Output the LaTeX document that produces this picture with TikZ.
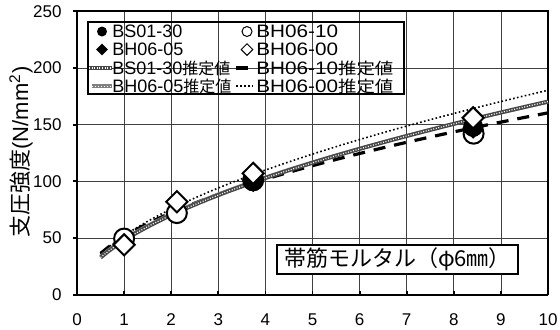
\documentclass[tikz,border=0pt]{standalone}
\usepackage{fontspec}
\usepackage{graphicx}
\usetikzlibrary{shapes.geometric}
\setmainfont{Liberation Sans}
\newfontfamily\jpfont{Noto Sans CJK JP}
\newcommand{\estval}{{\jpfont\fontsize{8}{9}\selectfont 推定値}}
\newcommand{\legwide}[1]{\scalebox{1.15}[1]{#1}}
\tikzset{
  gridline/.style={black!75, line width=0.35pt},
  est30/.style={black!72, line width=2pt,
    postaction={draw=white, line width=0.6pt, dash pattern=on 0.5pt off 0.8pt}},
  est05/.style={black!50, line width=1.7pt,
    postaction={draw=white, line width=0.5pt, dash pattern=on 0.5pt off 1pt}},
  est10/.style={black, line width=1.6pt, dash pattern=on 6pt off 4.5pt},
  est00/.style={black, line width=0.8pt, dash pattern=on 0.8pt off 1.2pt},
  opencirc/.style={circle, draw, fill=white, line width=1pt, minimum size=10pt, inner sep=0pt},
  fillcirc/.style={circle, fill=black, minimum size=10pt, inner sep=0pt},
  opendiam/.style={diamond, draw, fill=white, line width=1pt, minimum size=11pt, inner sep=0pt},
  filldiam/.style={diamond, fill=black, minimum size=11pt, inner sep=0pt},
  ticklabel/.style={font=\fontsize{8.5}{10}\selectfont, inner sep=0pt},
  legtext/.style={anchor=west, inner sep=0pt, font=\fontsize{9}{10}\selectfont},
}
\begin{document}
\begin{tikzpicture}[x=0.5pt, y=-0.5pt]
  \useasboundingbox (0,0) rectangle (560,329);
  \begin{scope}[xshift=38.5pt, yshift=-147.35pt, x=23.55pt, y=0.567pt]
    \foreach \i in {1,...,9} \draw[gridline] (\i,0) -- (\i,250);
    \foreach \j in {50,100,...,200} \draw[gridline] (0,\j) -- (10,\j);
    \draw[line width=0.9pt] (0,250) -- (10,250) -- (10,0);
    \draw[line width=1.2pt] (0,250) -- (0,0) -- (10,0);
    \foreach \i in {1,...,9} \draw[line width=0.9pt] (\i,0) -- ++(0,2pt);
    \foreach \j in {0,50,...,250} {
      \draw[line width=0.9pt] (0,\j) -- ++(-2pt,0);
      \node[ticklabel, anchor=east] (y\j) at (-0.32,\j) {\j};
    }
    \foreach \i in {0,...,10} \node[ticklabel] (x\i) at (\i,-22.3) {\i};
    \node[rotate=90, font=\fontsize{11}{13}\selectfont] (ylab) at (-1.19,125.8)
      {{\jpfont 支圧強度}(N/mm\textsuperscript{2})};
    \draw[est10] plot[domain=0.5:10, samples=60] (\x, {51.3*\x^0.495});
    \draw[est00] plot[domain=0.5:10, samples=60] (\x, {52*\x^0.54});
    \draw[est05] plot[domain=0.5:10, samples=60] (\x, {49*\x^0.54});
    \draw[est30] plot[domain=0.5:10, samples=60] (\x, {48*\x^0.55});
    \node[opencirc] (c10a) at (1,49.5) {};
    \node[opencirc] (c10b) at (2.12,72) {};
    \node[opencirc] (c10c) at (3.74,101) {};
    \node[opencirc] (c10d) at (8.42,142) {};
    \node[fillcirc] (c30a) at (3.74,100) {};
    \node[fillcirc] (c30b) at (8.41,148) {};
    \node[filldiam] (d05a) at (3.74,100) {};
    \node[filldiam] (d05b) at (8.41,147) {};
    \node[opendiam] (d00a) at (1,44) {};
    \node[opendiam] (d00b) at (2.12,82) {};
    \node[opendiam] (d00c) at (3.74,107) {};
    \node[opendiam] (d00d) at (8.41,156) {};
  \end{scope}
  \draw[line width=0.6pt] (88,22) rectangle (404,94);
  \node[fillcirc, minimum size=5pt] (l30) at (102,31.5) {};
  \node[legtext] (t30) at (112,31.5) {BS01-30};
  \node[opencirc, minimum size=5pt, line width=0.5pt] (l10) at (247,31.5) {};
  \node[legtext] (t10) at (256,31.5) {\legwide{BH06-10}};
  \node[filldiam, minimum size=6pt] (l05) at (102,49.5) {};
  \node[legtext] (t05) at (112,49.5) {BH06-05};
  \node[opendiam, minimum size=6pt, line width=0.5pt] (l00) at (247,49.5) {};
  \node[legtext] (t00) at (256,49.5) {\legwide{BH06-00}};
  \draw[est30] (89,68) -- (112,68);
  \node[legtext] (e30) at (112,68) {BS01-30\estval};
  \draw[est10] (236,68) -- (253,68);
  \node[legtext] (e10) at (256,68) {\legwide{BH06-10\estval}};
  \draw[est05] (92,86) -- (112,86);
  \node[legtext] (e05) at (112,86) {BH06-05\estval};
  \draw[est00] (236,86) -- (253,86);
  \node[legtext] (e00) at (256,86) {\legwide{BH06-00\estval}};
  \node[draw, fill=white, line width=0.6pt, minimum width=120.5pt, minimum height=14.5pt,
    inner sep=0pt, font=\jpfont\fontsize{11}{13}\selectfont] (note) at (397.5,259.5)
    {帯筋モルタル（φ6㎜）};
\end{tikzpicture}
\end{document}
